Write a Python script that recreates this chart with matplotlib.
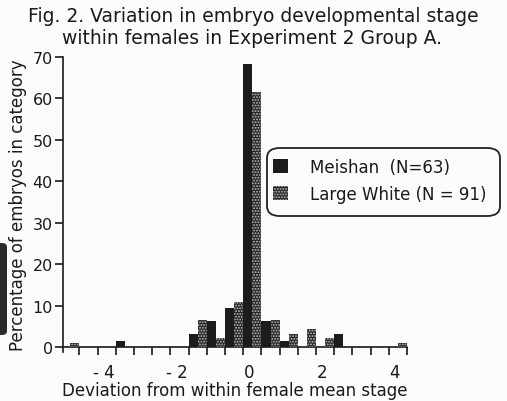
import matplotlib
matplotlib.use("Agg")
import matplotlib.pyplot as plt
from matplotlib.patches import FancyBboxPatch, Rectangle
import matplotlib.transforms as mtrans
import numpy as np

plt.rcParams['font.family'] = ['DejaVu Sans']
plt.rcParams['hatch.linewidth'] = 0.9

# Data (percent of embryos per 0.5-stage deviation bin)
bins = [-5.0, -4.5, -4.0, -3.5, -3.0, -2.5, -2.0, -1.5, -1.0, -0.5,
        0.0, 0.5, 1.0, 1.5, 2.0, 2.5, 3.0, 3.5, 4.0]
meishan = [0, 0, 0, 1.6, 0, 0, 0, 3.2, 6.3, 9.5,
           68.3, 6.3, 1.6, 0, 0, 3.2, 0, 0, 0]
large_white = [1.1, 0, 0, 0, 0, 0, 0, 6.6, 2.2, 11.0,
               61.5, 6.6, 3.3, 4.4, 2.2, 0, 0, 0, 1.1]
xtick_vals = [-4, -2, 0, 2, 4]
xtick_labels = ['- 4', '- 2', '0', '2', '4']
ytick_vals = [0, 10, 20, 30, 40, 50, 60, 70]
labels = ['Meishan  (N=63)', 'Large White (N = 91)']

W, H = 507, 402
fig = plt.figure(figsize=(W / 100, H / 100), dpi=100)
bg = '#fcfcfa'
fig.patch.set_facecolor(bg)
txt = '#1a1a1a'
fs = 12

ax_l, ax_r = 62.7, 407.0
ax_top, ax_bot = 57.8, 353.3
ax = fig.add_axes([ax_l / W, 1 - ax_bot / H, (ax_r - ax_l) / W, (ax_bot - ax_top) / H])
ax.set_facecolor('none')

x = np.array(bins)
bw = 0.25
ax.bar(x - bw / 2, meishan, width=bw, color='#1c1c1c', linewidth=0, zorder=3)
ax.bar(x + bw / 2, large_white, width=bw, color='#262626', edgecolor='#bdbdbd',
       linewidth=0, hatch='......', zorder=3)

ax.set_xlim(-5.21, 4.25)
ax.set_ylim(-1.2, 70)

for s in ['top', 'right']:
    ax.spines[s].set_visible(False)
ax.spines['bottom'].set_position(('data', 0))
ax.spines['left'].set_bounds(-1.2, 70)
for s in ['bottom', 'left']:
    ax.spines[s].set_linewidth(1.2)
    ax.spines[s].set_color('#1a1a1a')

ax.set_yticks(ytick_vals)
ax.tick_params(axis='y', direction='out', length=6, width=1.2, labelsize=11.5,
               pad=1, colors=txt)

ax.set_xticks(xtick_vals)
ax.set_xticklabels(xtick_labels)
ax.set_xticks(np.arange(-4.75, 4.26, 0.5), minor=True)
ax.tick_params(axis='x', which='major', length=0, labelsize=fs, pad=11, colors=txt)
ax.tick_params(axis='x', which='minor', direction='out', length=6, width=1.2, colors=txt)
off = mtrans.ScaledTranslation(-3 / 100, 0, fig.dpi_scale_trans)
for lab in ax.get_xticklabels():
    lab.set_transform(lab.get_transform() + off)

ax.set_xlabel('Deviation from within female mean stage', fontsize=fs, labelpad=0, color=txt)
ax.set_ylabel('Percentage of embryos in category', fontsize=fs, labelpad=4, color=txt)

fig.text(253 / W, 1 - 17 / H, 'Fig. 2. Variation in embryo developmental stage',
         ha='center', va='center', fontsize=13.5, color=txt)
fig.text(252 / W, 1 - 38 / H, 'within females in Experiment 2 Group A.',
         ha='center', va='center', fontsize=13.5, color=txt)

# Legend (rounded box)
bx0, by0, bx1, by1 = 267, 149, 500, 217
box = FancyBboxPatch((bx0 / W, 1 - by1 / H), (bx1 - bx0) / W, (by1 - by0) / H,
                     boxstyle='round,pad=0,rounding_size=0.025',
                     transform=fig.transFigure, facecolor=bg,
                     edgecolor='#222222', linewidth=1.3, zorder=5)
fig.patches.append(box)
fig.patches.append(Rectangle((273 / W, 1 - 174 / H), 15 / W, 14 / H, transform=fig.transFigure,
                             facecolor='#1c1c1c', linewidth=0, zorder=6))
fig.patches.append(Rectangle((273 / W, 1 - 201 / H), 15 / W, 14 / H, transform=fig.transFigure,
                             facecolor='#262626', edgecolor='#bdbdbd', linewidth=0,
                             hatch='......', zorder=6))
fig.text(310 / W, 1 - 168 / H, labels[0], ha='left', va='center', fontsize=fs, zorder=7, color=txt)
fig.text(310 / W, 1 - 195 / H, labels[1], ha='left', va='center', fontsize=fs, zorder=7, color=txt)

# scan artifact at left edge
fig.patches.append(FancyBboxPatch((-6 / W, 1 - 336 / H), 13 / W, 92 / H,
                                  boxstyle='round,pad=0,rounding_size=0.01',
                                  transform=fig.transFigure, facecolor='#2a2a2a',
                                  linewidth=0, zorder=1))

fig.savefig('out.png', dpi=100, facecolor=fig.get_facecolor())
